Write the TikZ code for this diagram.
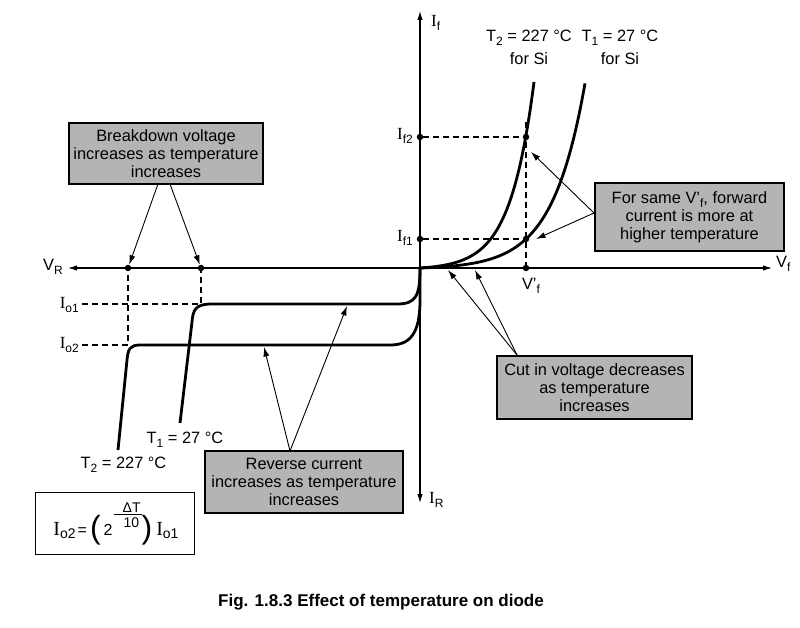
\documentclass[tikz,border=0pt]{standalone}
\usepackage{fontspec}
\setmainfont{Liberation Sans}
\newfontfamily\serifI{Liberation Serif}
\usetikzlibrary{arrows.meta,calc}
\definecolor{boxgray}{RGB}{180,180,180}
\newcommand{\lowsub}[1]{\raisebox{-4pt}{\fontsize{12}{12}\selectfont #1}}
\newcommand{\Ilab}[1]{{\serifI\fontsize{17}{17}\selectfont I}\lowsub{#1}}
\newcommand{\Ibig}[1]{{\serifI\fontsize{20}{20}\selectfont I}\raisebox{-3pt}{\fontsize{14}{14}\selectfont #1}}
\newcommand{\bigparen}[1]{\raisebox{-3.5pt}{\fontsize{32}{32}\selectfont #1}}
\begin{document}
\begin{tikzpicture}[x=1pt,y=-1pt,
  curve/.style={line width=2.8pt},
  axis/.style={line width=1.1pt},
  axisarrow/.style={axis,{Latex[length=9pt,width=5.5pt]}-{Latex[length=9pt,width=5.5pt]}},
  guide/.style={line width=1.1pt,dash pattern=on 6pt off 4pt},
  callout/.style={line width=0.9pt,-{Latex[length=9.5pt,width=6pt]}},
  note/.style={draw,line width=1.8pt,fill=boxgray,align=center,inner sep=0pt,
    font=\fontsize{16.4}{18}\selectfont},
  dotn/.style={circle,fill=black,inner sep=0pt,minimum size=6.5pt},
  lab/.style={inner sep=0pt,font=\fontsize{16.4}{18}\selectfont}]
\useasboundingbox (0,0) rectangle (800,628);

% axes
\coordinate (xl) at (68,268);
\coordinate (xr) at (772,268);
\coordinate (yt) at (420,11);
\coordinate (yb) at (420,503);
\draw[axisarrow] (xl) -- (xr);
\draw[axisarrow] (yt) -- (yb);

% dots
\node[dotn] (if2) at (420,137) {};
\node[dotn] (if1) at (420,239) {};
\node[dotn] (p2) at (526,137) {};
\node[dotn] (p1) at (526,239) {};
\node[dotn] (vfp) at (526,268) {};
\node[dotn] (bv2) at (128,268) {};
\node[dotn] (bv1) at (201,268) {};
\coordinate (vtop) at (526,122);
\coordinate (io1) at (82,304);
\coordinate (io2) at (82,345);
\coordinate (k1) at (201,304);
\coordinate (k2) at (128,345);

% dashed guides
\draw[guide] (if2) -- (p2);
\draw[guide] (if1) -- (p1);
\draw[guide] (vtop) -- (vfp);
\draw[guide] (io1) -- (k1) -- (bv1);
\draw[guide] (io2) -- (k2) -- (bv2);

% forward curves
\draw[curve] plot[domain=0:114,samples=120] ({420+\x},{268-1.6*(exp(0.0418*\x)-1)});
\draw[curve] plot[domain=0:165,samples=120] ({420+\x},{268-1.152*(exp(0.0308*\x)-1)});

% reverse curves
\draw[curve] (420,268) .. controls (420,296) and (416,304) .. (397,304) -- (212,304)
  .. controls (196,304) and (193,309) .. (192,322) -- (180,423);
\draw[curve] (420,268) -- (420,300) .. controls (420,334) and (410,345) .. (390,345) -- (140,345)
  .. controls (130,345) and (128,349) .. (127,360) -- (118,450);

% axis labels
\node[lab,anchor=base east] (lvr) at (63,270) {V\lowsub{R}};
\node[lab,anchor=base west] (lvf) at (776,268) {V\lowsub{f}};
\node[lab,anchor=base west] (lif) at (431,27) {\Ilab{f}};
\node[lab,anchor=base west] (lir) at (429,503) {\Ilab{R}};
\node[lab,anchor=base east] (lif2) at (413,140) {\Ilab{f2}};
\node[lab,anchor=base east] (lif1) at (413,242) {\Ilab{f1}};
\node[lab,anchor=base east] (lio1) at (79,308) {\Ilab{o1}};
\node[lab,anchor=base east] (lio2) at (79,348) {\Ilab{o2}};
\node[lab,anchor=base] (lvfp) at (531,290) {V'\lowsub{f}};

% temperature labels
\node[lab,anchor=base] (t2a) at (529,42) {T\lowsub{2} = 227 °C};
\node[lab,anchor=base] (t2b) at (529,65) {for Si};
\node[lab,anchor=base] (t1a) at (620,42) {T\lowsub{1} = 27 °C};
\node[lab,anchor=base] (t1b) at (620,65) {for Si};
\node[lab,anchor=base] (t1r) at (185,443) {T\lowsub{1} = 27 °C};
\node[lab,anchor=base] (t2r) at (123.5,468) {T\lowsub{2} = 227 °C};

% notes
\node[note,minimum width=194pt,minimum height=61pt] (bd) at (166,153.5)
  {Breakdown voltage\\increases as temperature\\increases};
\node[note,minimum width=189pt,minimum height=68pt] (fw) at (689.5,217)
  {For same V'\lowsub{f}, forward\\current is more at\\higher temperature};
\node[note,minimum width=195pt,minimum height=63pt] (ci) at (594.5,387.5)
  {Cut in voltage decreases\\as temperature\\increases};
\node[note,minimum width=198pt,minimum height=62pt] (rc) at (304,482)
  {Reverse current\\increases as temperature\\increases};

% formula
\node[draw,line width=1.4pt,fill=white,minimum width=159pt,minimum height=62pt,inner sep=0pt] (fm) at (115,523.5) {};
\node[inner sep=0pt,anchor=base] (fmt) at (116,535)
  {\Ibig{o2}\hspace{2pt}{\fontsize{16}{16}\selectfont=}\hspace{3pt}\bigparen{(}\hspace{3pt}{\fontsize{16}{16}\selectfont 2}\hspace{1pt}{\fontsize{14}{14}\selectfont\raisebox{8pt}{\makebox[28pt][r]{10\hspace{2.5pt}}}\hspace{-28pt}\raisebox{20pt}{\rule{28pt}{1.3pt}}\hspace{-28pt}\raisebox{23pt}{\makebox[28pt][r]{ΔT\hspace{1pt}}}}\bigparen{)}\hspace{4pt}\Ibig{o1}};

% callout arrows
\coordinate (bds1) at (158,184);
\coordinate (bds2) at (170,184);
\draw[callout] (bds1) -- (bv2);
\draw[callout] (bds2) -- (bv1);
\coordinate (fws) at (594,213);
\coordinate (fwt2) at (531,152);
\coordinate (fwt1) at (536,239);
\draw[callout] (fws) -- (fwt2);
\draw[callout] (fws) -- (fwt1);
\coordinate (cis) at (517,355);
\coordinate (cit2) at (448,270);
\coordinate (cit1) at (475,270);
\draw[callout] (cis) -- (cit2);
\draw[callout] (cis) -- (cit1);
\coordinate (rcs) at (290,451);
\coordinate (rct1) at (347,306);
\coordinate (rct2) at (264,347);
\draw[callout] (rcs) -- (rct1);
\draw[callout] (rcs) -- (rct2);

% caption
\node[inner sep=0pt,font=\bfseries\fontsize{17}{20}\selectfont] (cap) at (381,602)
  {Fig. 1.8.3 Effect of temperature on diode};
\end{tikzpicture}
\end{document}
